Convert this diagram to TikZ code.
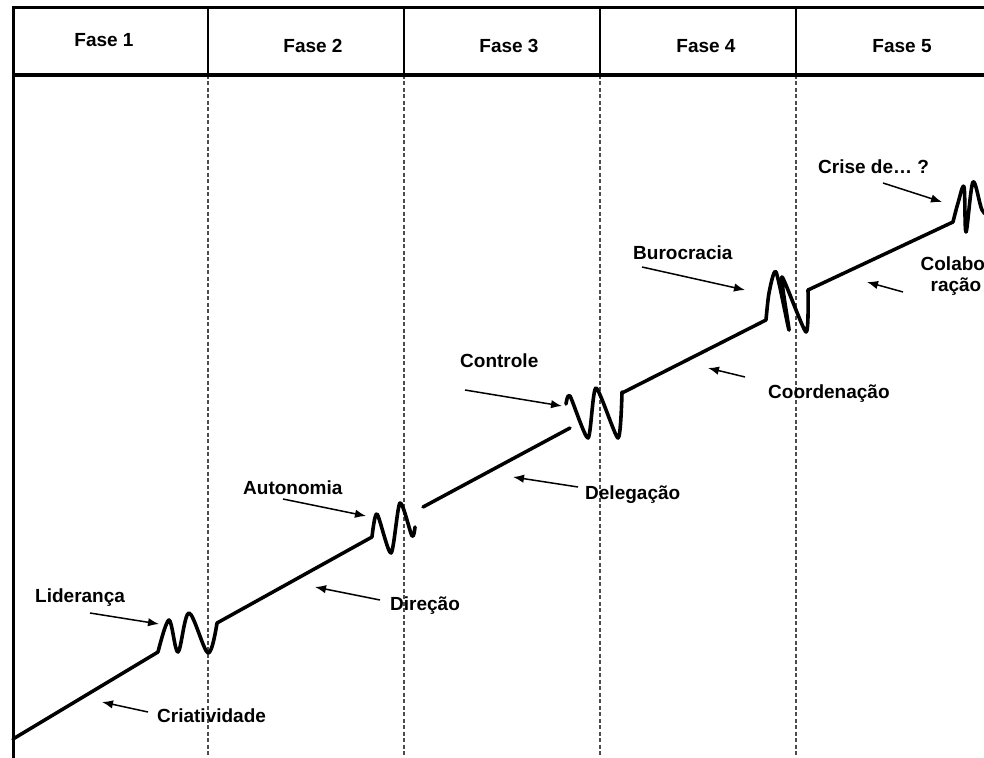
\documentclass[tikz,border=0pt]{standalone}
\usepackage{fontspec}
\setmainfont{Liberation Sans}
\usetikzlibrary{arrows.meta}
\begin{document}
\begin{tikzpicture}[x=1pt,y=-1pt,
  lbl/.style={font=\fontsize{19}{21}\selectfont\bfseries, inner sep=0pt, anchor=base west},
  hdr/.style={font=\fontsize{19}{21}\selectfont\bfseries, inner sep=0pt, anchor=base},
  curve/.style={line width=3.5pt, line cap=round, line join=round},
  wig/.style={line width=3.6pt, line cap=round, line join=round, smooth, tension=0.55},
  pointer/.style={line width=1.5pt, -{Latex[length=11pt,width=8.5pt]}},
  phase/.style={black!70, line width=1.2pt, dash pattern=on 4pt off 2.5pt},
  frame/.style={line width=3pt},
  divider/.style={line width=1.5pt},
]
\useasboundingbox (0,0) rectangle (984,757);
% phase separators
\foreach \x [count=\i] in {208,404,600,796}{
  \coordinate (h\i) at (\x,8);
  \coordinate (m\i) at (\x,75);
  \coordinate (b\i) at (\x,760);
  \draw[divider] (h\i) -- (m\i);
  \draw[phase] (m\i) -- (b\i);
}
% frame
\coordinate (tl) at (13.5,7.5);
\coordinate (tr) at (990,7.5);
\coordinate (ml) at (13.5,75.5);
\coordinate (mr) at (990,75.5);
\coordinate (bl) at (13.5,760);
\draw[frame] (tr) -- (tl) -- (bl);
\draw[line width=4pt] (ml) -- (mr);
% headers
\node[hdr] (f1) at (104,47) {Fase 1};
\node[hdr] (f2) at (313,52.5) {Fase 2};
\node[hdr] (f3) at (509,52.5) {Fase 3};
\node[hdr] (f4) at (706,52.5) {Fase 4};
\node[hdr] (f5) at (902,52.5) {Fase 5};
% growth line
\coordinate (s0) at (13,739);
\coordinate (s1) at (158,652);
\coordinate (s2) at (217,623);
\coordinate (s3) at (372,537);
\coordinate (s4) at (423,507);
\coordinate (s5) at (570,428);
\coordinate (s6) at (622,393);
\coordinate (s7) at (766,320);
\coordinate (s8) at (808,290);
\coordinate (s9) at (953,222);
\draw[curve] (s0) -- (s1);
\draw[wig] plot coordinates {(158,652) (169,620) (178,652) (189,613) (208,653) (217,623)};
\draw[curve] (s2) -- (s3);
\draw[wig, tension=0.45] plot coordinates {(372,537) (377,514) (391,553) (400,503) (412,536) (415,527)};
\draw[curve] (s4) -- (s5);
\draw[wig, tension=0.4] plot coordinates {(566,404) (570,396) (588,438) (596,388) (618,438) (622,392)};
\draw[curve] (s6) -- (s7);
\draw[wig, tension=0.4] plot coordinates {(766,320) (769,293) (776,272) (789,330) (782,277) (806,332) (808,290)};
\draw[curve] (s8) -- (s9);
\draw[wig] plot coordinates {(953,222) (958,203) (964,187) (966,232) (973,182) (982,210) (990,216)};
% labels
\node[lbl] (lid) at (35,602) {Liderança};
\node[lbl] (cri) at (157,722) {Criatividade};
\node[lbl] (aut) at (243,494) {Autonomia};
\node[lbl] (dir) at (390,610) {Direção};
\node[lbl] (con) at (460,367) {Controle};
\node[lbl] (del) at (585,499) {Delegação};
\node[lbl] (bur) at (633,259) {Burocracia};
\node[lbl] (coo) at (768,398) {Coordenação};
\node[lbl] (cris) at (818,173) {Crise de… ?};
\node[font=\fontsize{19}{21}\selectfont\bfseries, inner sep=0pt, align=center, anchor=base] (col) at (956,291) {Colabo-\\ração};
% arrows
\coordinate (a1) at (90,613);   \coordinate (t1) at (159,624);
\coordinate (a2) at (148,712);  \coordinate (t2) at (102,702);
\coordinate (a3) at (283,499);  \coordinate (t3) at (366,516);
\coordinate (a4) at (380,600);  \coordinate (t4) at (315,587);
\coordinate (a5) at (465,390);  \coordinate (t5) at (562,406);
\coordinate (a6) at (578,487);  \coordinate (t6) at (513,477);
\coordinate (a7) at (642,267);  \coordinate (t7) at (745,290);
\coordinate (a8) at (745,377);  \coordinate (t8) at (708,368);
\coordinate (a9) at (883,183);  \coordinate (t9) at (942,202);
\coordinate (a10) at (903,292); \coordinate (t10) at (867,282);
\foreach \i in {1,...,10}{\draw[pointer] (a\i) -- (t\i);}
\end{tikzpicture}
\end{document}
